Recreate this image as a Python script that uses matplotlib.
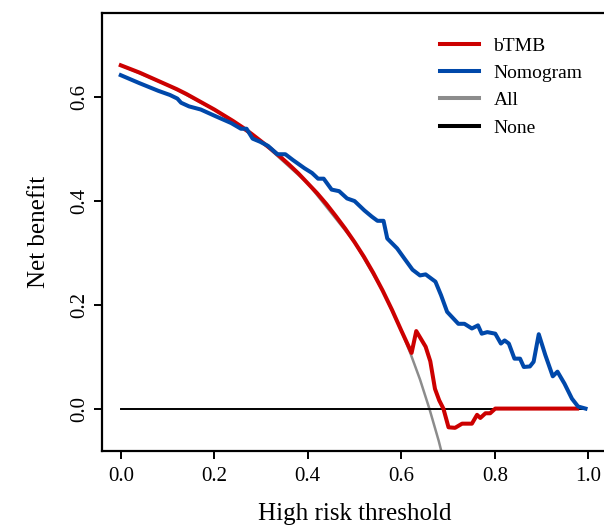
import matplotlib.pyplot as plt
from matplotlib.lines import Line2D

# decision curve values
thr_btmb = [0.00, 0.02, 0.04, 0.06, 0.08, 0.10, 0.12, 0.14, 0.16, 0.18,
            0.20, 0.22, 0.24, 0.26, 0.28, 0.30, 0.32, 0.34, 0.36, 0.38,
            0.40, 0.42, 0.44, 0.46, 0.48, 0.50, 0.52, 0.54, 0.56, 0.58,
            0.60, 0.622, 0.632, 0.652, 0.662, 0.672, 0.681, 0.690, 0.701,
            0.715, 0.730, 0.751, 0.762, 0.769, 0.780, 0.790, 0.801, 0.976]
nb_btmb = [0.660, 0.653, 0.646, 0.638, 0.630, 0.622, 0.614, 0.605, 0.595, 0.585,
           0.575, 0.564, 0.553, 0.541, 0.528, 0.514, 0.500, 0.485, 0.469, 0.452,
           0.433, 0.414, 0.393, 0.370, 0.346, 0.320, 0.292, 0.261, 0.227, 0.190,
           0.150, 0.107, 0.149, 0.119, 0.091, 0.038, 0.016, 0.000, -0.036,
           -0.037, -0.029, -0.029, -0.012, -0.018, -0.009, -0.009, 0.000, 0.000]

thr_nomo = [0.000, 0.039, 0.080, 0.105, 0.121, 0.129, 0.146, 0.171, 0.203, 0.236,
            0.257, 0.269, 0.282, 0.298, 0.315, 0.335, 0.352, 0.368, 0.393, 0.409,
            0.422, 0.434, 0.451, 0.467, 0.484, 0.500, 0.521, 0.537, 0.549, 0.562,
            0.570, 0.591, 0.607, 0.624, 0.640, 0.652, 0.673, 0.685, 0.698, 0.722,
            0.735, 0.751, 0.764, 0.772, 0.784, 0.801, 0.813, 0.821, 0.830, 0.842,
            0.854, 0.862, 0.875, 0.883, 0.894, 0.908, 0.924, 0.934, 0.949, 0.965,
            0.978, 0.994]
nb_nomo = [0.641, 0.626, 0.611, 0.603, 0.596, 0.588, 0.581, 0.575, 0.562, 0.549,
           0.538, 0.538, 0.519, 0.513, 0.505, 0.489, 0.489, 0.478, 0.462, 0.453,
           0.442, 0.442, 0.421, 0.418, 0.404, 0.399, 0.381, 0.369, 0.361, 0.361,
           0.327, 0.308, 0.288, 0.267, 0.256, 0.258, 0.244, 0.218, 0.186, 0.163,
           0.163, 0.154, 0.160, 0.144, 0.147, 0.144, 0.125, 0.131, 0.125, 0.096,
           0.096, 0.080, 0.081, 0.090, 0.143, 0.103, 0.062, 0.071, 0.048, 0.019,
           0.004, 0.000]

thr_all = [0.00, 0.10, 0.20, 0.30, 0.40, 0.50, 0.56, 0.60, 0.62, 0.64, 0.66, 0.68, 0.70]
nb_all = [0.660, 0.622, 0.575, 0.514, 0.433, 0.320, 0.227, 0.150, 0.105, 0.056, 0.000, -0.062, -0.133]

thr_none = [0.0, 0.99]
nb_none = [0.0, 0.0]

red = '#cc0000'
blue = '#0048aa'
grey = '#8c8c8c'

plt.rcParams['font.family'] = ['Liberation Serif', 'DejaVu Serif']

fig = plt.figure(figsize=(6.04, 5.25), dpi=100)
ax = fig.add_axes([0.169, 0.1415, 0.836, 0.8332])

ax.plot(thr_all, nb_all, color=grey, lw=1.8, zorder=2)
ax.plot(thr_none, nb_none, color='black', lw=1.4, zorder=3)
ax.plot(thr_btmb, nb_btmb, color=red, lw=2.9, zorder=4)
ax.plot(thr_nomo, nb_nomo, color=blue, lw=2.9, zorder=5)

ax.set_xlim(-0.04, 1.04)
ax.set_ylim(-0.081, 0.760)
ax.set_xticks([0.0, 0.2, 0.4, 0.6, 0.8, 1.0])
ax.set_xticklabels(['0.0', '0.2', '0.4', '0.6', '0.8', '1.0'])
ax.set_yticks([0.0, 0.2, 0.4, 0.6])
ax.set_yticklabels(['0.0', '0.2', '0.4', '0.6'], rotation=90, va='center')
ax.tick_params(direction='out', length=6, width=1.4, labelsize=15)
ax.tick_params(axis='x', pad=6)
ax.tick_params(axis='y', pad=3)
for s in ax.spines.values():
    s.set_linewidth(1.6)

ax.set_xlabel('High risk threshold', fontsize=18, labelpad=12)
ax.set_ylabel('Net benefit', fontsize=18, labelpad=15)

handles = [Line2D([], [], color=red, lw=2.9),
           Line2D([], [], color=blue, lw=2.9),
           Line2D([], [], color=grey, lw=2.9),
           Line2D([], [], color='black', lw=2.9)]
ax.legend(handles, ['bTMB', 'Nomogram', 'All', 'None'], frameon=False,
          loc='upper left', bbox_to_anchor=(0.669, 0.946), fontsize=14,
          handlelength=2.0, handletextpad=0.75, labelspacing=0.5,
          borderpad=0, borderaxespad=0)

fig.savefig('out.png', dpi=100)
